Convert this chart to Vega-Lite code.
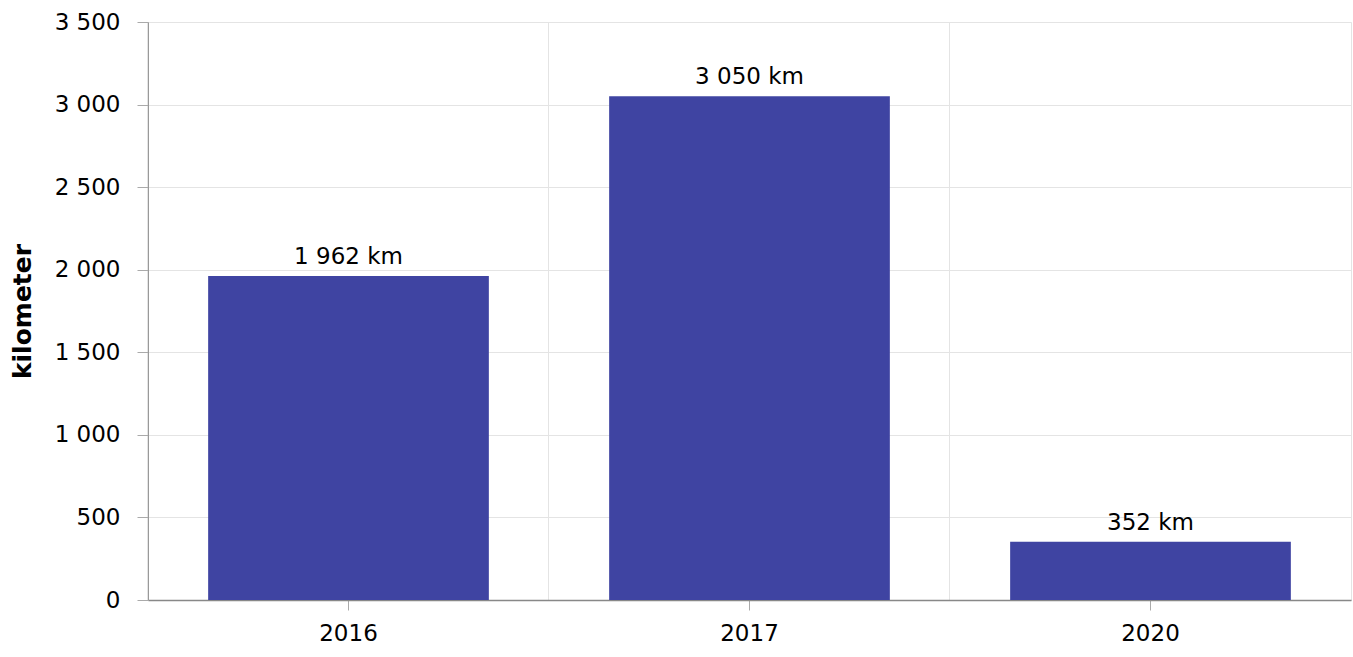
{
  "$schema": "https://vega.github.io/schema/vega-lite/v6.json",
  "autosize": {"type": "none"},
  "width": 1203,
  "height": 578,
  "padding": {"left": 148, "top": 22, "right": 2, "bottom": 57},
  "background": "white",
  "config": {
    "font": "DejaVu Sans",
    "view": {"stroke": "#e4e4e4"},
    "axis": {"labelFont": "DejaVu Sans", "labelColor": "#000", "titleFont": "DejaVu Sans", "titleColor": "#000"}
  },
  "data": {
    "values": [
      {"year": "2016", "km": 1962, "label": "1 962 km"},
      {"year": "2017", "km": 3050, "label": "3 050 km"},
      {"year": "2020", "km": 352, "label": "352 km"}
    ]
  },
  "encoding": {
    "x": {
      "field": "year",
      "type": "nominal",
      "scale": {"paddingInner": 0.3, "paddingOuter": 0.15}
    },
    "y": {
      "field": "km",
      "type": "quantitative",
      "scale": {"domain": [0, 3500], "nice": false}
    }
  },
  "layer": [
    {
      "mark": {"type": "text", "baseline": "alphabetic", "dy": -12, "fontSize": 23, "color": "#000"},
      "encoding": {
        "text": {"field": "label"},
        "x": {
          "field": "year",
          "type": "nominal",
          "axis": {
            "orient": "bottom",
            "title": null,
            "labels": false,
            "ticks": false,
            "domain": false,
            "grid": true,
            "bandPosition": -0.2143,
            "gridColor": "#e4e4e4"
          }
        }
      }
    },
    {
      "mark": {"type": "bar", "color": "#3f44a2"},
      "encoding": {
        "x": {
          "field": "year",
          "type": "nominal",
          "axis": {
            "orient": "bottom",
            "title": null,
            "labelAngle": 0,
            "labelFontSize": 23,
            "labelPadding": 12,
            "grid": false,
            "ticks": true,
            "tickSize": 10,
            "tickColor": "#aaa",
            "domain": true,
            "domainColor": "#888",
            "domainWidth": 1.5
          }
        },
        "y": {
          "field": "km",
          "type": "quantitative",
          "axis": {
            "title": "kilometer",
            "titleFontSize": 25,
            "titleFontWeight": "bold",
            "titleX": -126,
            "titleBaseline": "middle",
            "values": [0, 500, 1000, 1500, 2000, 2500, 3000, 3500],
            "labelExpr": "replace(format(datum.value, ','), ',', ' ')",
            "labelFontSize": 23,
            "labelPadding": 17,
            "tickSize": 11,
            "tickColor": "#aaa",
            "domainColor": "#999",
            "gridColor": "#e4e4e4",
            "grid": true
          }
        }
      }
    }
  ],
  "resolve": {"axis": {"x": "independent"}}
}
